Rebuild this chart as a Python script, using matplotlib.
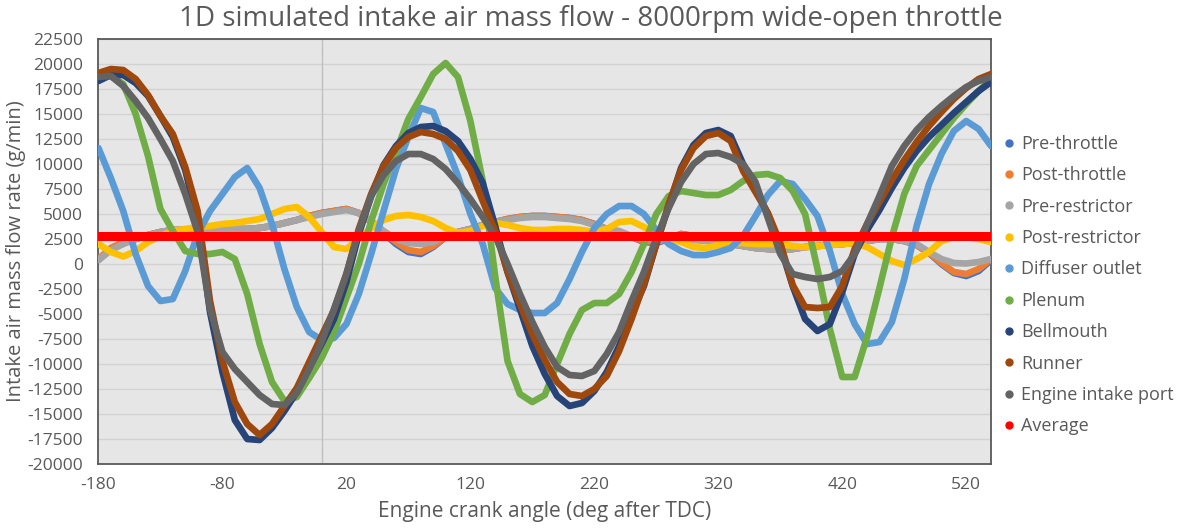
import matplotlib.pyplot as plt
from matplotlib.lines import Line2D

plt.rcParams['font.family'] = ['Open Sans', 'DejaVu Sans']
plt.rcParams['axes.unicode_minus'] = False

# crank angle, deg after TDC (values read every 10 deg)
crank_angle = list(range(-180, 541, 10))

pre_throttle = [400, 1500, 2100, 2500, 2900, 3200, 3400, 3400, 3400, 3400,
                3400, 3500, 3500, 3600, 3800, 4100, 4400, 4800, 5100, 5300,
                5500, 5100, 4200, 3100, 2000, 1200, 1000, 1700, 2700, 3200,
                3500, 3900, 4200, 4500, 4700, 4800, 4800, 4700, 4600, 4400,
                4000, 3500, 3200, 2700, 2200, 2100, 2500, 3000, 2800, 2500,
                2300, 2000, 1800, 1600, 1500, 1400, 1500, 1700, 1800, 1900,
                2000, 2100, 2300, 2500, 2500, 2300, 1900, 1100, 0, -900,
                -1200, -700, 400]
post_throttle = [500, 1600, 2200, 2500, 2900, 3200, 3400, 3400, 3400, 3400,
                 3400, 3500, 3500, 3600, 3800, 4100, 4400, 4800, 5100, 5300,
                 5500, 5100, 4200, 3200, 2200, 1400, 1200, 1800, 2700, 3200,
                 3500, 3900, 4200, 4500, 4700, 4800, 4800, 4700, 4600, 4400,
                 4000, 3500, 3200, 2700, 2300, 2200, 2600, 3000, 2800, 2500,
                 2300, 2000, 1800, 1600, 1500, 1400, 1500, 1700, 1800, 1900,
                 2000, 2100, 2300, 2500, 2500, 2300, 1900, 1100, 100, -800,
                 -1000, -500, 500]
pre_restrictor = [400, 1400, 2000, 2500, 2900, 3200, 3400, 3400, 3400, 3400,
                  3400, 3500, 3500, 3600, 3800, 4100, 4400, 4700, 5000, 5200,
                  5400, 5100, 4300, 3300, 2500, 2100, 2000, 2200, 2800, 3200,
                  3500, 3900, 4200, 4400, 4600, 4700, 4700, 4600, 4500, 4300,
                  3900, 3500, 3300, 2800, 2500, 2400, 2400, 2400, 2400, 2300,
                  2200, 2000, 1800, 1600, 1500, 1400, 1500, 1700, 1800, 1900,
                  2000, 2100, 2300, 2500, 2500, 2300, 2000, 1200, 500, 100,
                  50, 200, 500]
post_restrictor = [2000, 1200, 750, 1300, 2200, 2800, 3300, 3500, 3700, 3800,
                   4000, 4100, 4300, 4500, 5000, 5500, 5700, 4700, 3200, 1700,
                   1500, 2500, 3600, 4400, 4800, 4900, 4700, 4300, 3600, 3100,
                   3300, 3800, 4100, 3900, 3600, 3400, 3400, 3500, 3500, 3400,
                   3200, 3500, 4200, 4300, 3700, 3000, 2500, 2200, 1700, 1600,
                   1900, 2100, 2100, 2000, 2000, 2000, 1800, 1700, 1800, 1900,
                   2000, 2100, 1700, 1000, 300, -100, 500, 1200, 2300, 2700,
                   2700, 2500, 2200]
diffuser_outlet = [11600, 8600, 5300, 1000, -2200, -3700, -3500, -700, 3000, 5300,
                   7000, 8700, 9600, 7600, 4000, -500, -4300, -6800, -7600, -7400,
                   -6000, -3000, 1000, 5300, 9500, 12700, 15600, 15200, 12000, 8800,
                   5000, 2000, -2400, -4000, -4600, -4900, -4900, -3900, -1500, 1200,
                   3600, 5000, 5800, 5800, 5000, 3400, 2000, 1300, 900, 900,
                   1200, 1600, 2800, 4800, 6900, 8300, 8000, 6500, 4800, 1300,
                   -3000, -6000, -8000, -7800, -5800, -1500, 3800, 8000, 11000, 13300,
                   14300, 13500, 11800]
plenum = [19100, 18800, 18000, 15000, 10800, 5500, 3300, 1300, 1000, 1000,
          1200, 500, -3000, -8000, -11800, -13700, -13300, -11400, -9400, -6800,
          -3400, 0, 4300, 8000, 11200, 14500, 16700, 19000, 20100, 18700,
          14300, 8300, -1200, -9700, -13000, -13800, -13100, -10000, -7000, -4600,
          -3900, -3900, -3000, -800, 2000, 5000, 6800, 7300, 7100, 6900,
          6900, 7400, 8300, 8900, 9000, 8600, 7300, 5000, -500, -6500,
          -11300, -11300, -7300, -2400, 2700, 7000, 9800, 11400, 13000, 14600,
          16000, 17300, 18500]
bellmouth = [18300, 18900, 18900, 18100, 16800, 14800, 12700, 9400, 4300, -4800,
             -10800, -15600, -17500, -17600, -16400, -14700, -12800, -10400, -8000, -5500,
             -1800, 3000, 6800, 9900, 11800, 13100, 13700, 13800, 13300, 12300,
             10500, 8100, 3800, -800, -4500, -8200, -11000, -13200, -14200, -13900,
             -12700, -10800, -8200, -5000, -2200, 2000, 5800, 9600, 11900, 13100,
             13400, 12800, 10000, 7500, 5000, 1800, -2200, -5500, -6700, -6000,
             -2800, 1000, 3400, 5400, 7600, 9600, 11300, 12700, 13900, 15100,
             16200, 17300, 18200]
runner = [19100, 19500, 19400, 18500, 16900, 14800, 13000, 9700, 5300, -3700,
          -9700, -13800, -16000, -17100, -16000, -14200, -12400, -9800, -7200, -4600,
          -1000, 3500, 7000, 9800, 11600, 12700, 13200, 13000, 12500, 11300,
          9400, 6300, 3300, -800, -4000, -7000, -9600, -11800, -13000, -13200,
          -12500, -11200, -8700, -5500, -2000, 2000, 6000, 9400, 11600, 12800,
          13100, 12300, 9300, 7200, 5100, 2100, -2100, -4300, -4400, -4300,
          -2200, 1500, 4000, 6200, 8400, 10400, 12200, 13800, 15200, 16500,
          17600, 18500, 19000]
engine_intake_port = [18700, 18800, 17800, 16300, 14600, 12500, 10300, 7000, 3200, -4500,
                      -8800, -10500, -11800, -13100, -14000, -14100, -12900, -10500, -7800, -4500,
                      -1000, 3300, 6800, 8900, 10300, 11000, 11000, 10500, 9500, 8100,
                      6500, 4700, 2800, 0, -3000, -5800, -8300, -10300, -11100, -11200,
                      -10700, -9000, -6800, -3700, -800, 2600, 5600, 8200, 10000, 11000,
                      11100, 10700, 10000, 8200, 4600, 1000, -1000, -1300, -1500, -1300,
                      -700, 1000, 4000, 6800, 9800, 11800, 13400, 14700, 15800, 16800,
                      17700, 18300, 18700]
average_flow = 2800

series_names = ['Pre-throttle', 'Post-throttle', 'Pre-restrictor', 'Post-restrictor',
                'Diffuser outlet', 'Plenum', 'Bellmouth', 'Runner', 'Engine intake port']
series_values = [pre_throttle, post_throttle, pre_restrictor, post_restrictor,
                 diffuser_outlet, plenum, bellmouth, runner, engine_intake_port]
series_colors = ['#4472C4', '#ED7D31', '#A5A5A5', '#FFC000', '#5B9BD5',
                 '#70AD47', '#264478', '#9E480E', '#636363']

txt = '#595959'

fig = plt.figure(figsize=(11.89, 5.28), dpi=100)
ax = fig.add_axes([0.0828, 0.1212, 0.7507, 0.8049])
ax.set_facecolor('#E6E6E6')

ax.axvline(0, color='#BFBFBF', lw=1, zorder=1)
for name, vals, col in zip(series_names, series_values, series_colors):
    ax.plot(crank_angle, vals, color=col, lw=4.8, solid_joinstyle='round',
            solid_capstyle='round', zorder=3)
ax.plot([crank_angle[0], crank_angle[-1]], [average_flow, average_flow],
        color='#FF0000', lw=6.5, solid_capstyle='round', zorder=4)

ax.set_xlim(-180, 540)
ax.set_ylim(-20000, 22500)
ax.set_xticks(range(-180, 521, 100))
ax.set_yticks(range(-20000, 22501, 2500))
ax.grid(axis='y', color='#D2D2D2', lw=1)
ax.set_axisbelow(True)
ax.tick_params(length=0, labelsize=12.5, labelcolor=txt)
ax.tick_params(axis='y', pad=11)
ax.tick_params(axis='x', pad=9)
for s in ax.spines.values():
    s.set_color('#595959')
    s.set_linewidth(1.3)

ax.set_xlabel('Engine crank angle (deg after TDC)', fontsize=15, color=txt, labelpad=6)
ax.set_ylabel('Intake air mass flow rate (g/min)', fontsize=14.5, color=txt, labelpad=1)
fig.suptitle('1D simulated intake air mass flow - 8000rpm wide-open throttle',
             fontsize=20, color=txt, x=0.497, y=0.99)

handles = [Line2D([], [], ls='', marker='o', markersize=5, color=c) for c in series_colors]
handles.append(Line2D([], [], ls='', marker='o', markersize=5, color='#FF0000'))
labels = series_names + ['Average']
fig.legend(handles, labels, loc='upper left', bbox_to_anchor=(0.826, 0.775),
           frameon=False, fontsize=13, labelcolor=txt, handletextpad=0.05,
           labelspacing=0.74, handlelength=1.2)

fig.savefig('out.png', dpi=100)
